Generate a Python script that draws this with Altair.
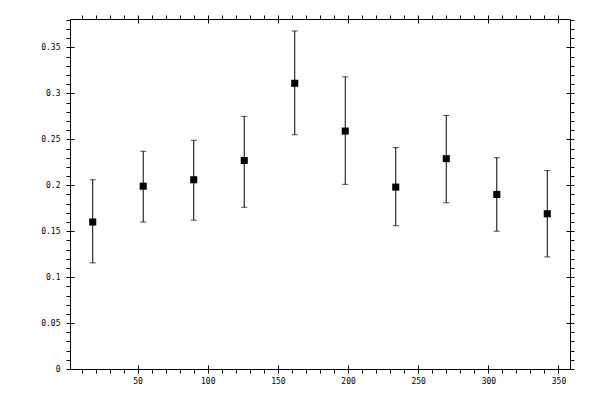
import altair as alt
import pandas as pd

angles = [18, 54, 90, 126, 162, 198, 234, 270, 306, 342]
values = [0.160, 0.199, 0.206, 0.227, 0.311, 0.259, 0.198, 0.229, 0.190, 0.169]
lows = [0.1155, 0.160, 0.162, 0.176, 0.255, 0.201, 0.156, 0.181, 0.150, 0.122]
highs = [0.206, 0.237, 0.249, 0.275, 0.368, 0.318, 0.241, 0.276, 0.230, 0.216]

x_major = [50, 100, 150, 200, 250, 300, 350]
x_minor = [v for v in range(10, 360, 10) if v % 50 != 0]
y_major = [0, 0.05, 0.1, 0.15, 0.2, 0.25, 0.3, 0.35]
y_minor = [round(i * 0.01, 2) for i in range(1, 39) if i % 5 != 0]

df = pd.DataFrame({"x": angles, "y": values, "lo": lows, "hi": highs})

FONT = "DejaVu Sans Mono"
xscale = alt.Scale(domain=[1.8, 358.2], nice=False, zero=False)
yscale = alt.Scale(domain=[0, 0.381], nice=False, zero=False)

common = dict(domain=False, grid=False, title=None, tickColor="black", tickWidth=1,
              labelFont=FONT, labelFontSize=8, labelColor="black", labelOverlap=False)


def major(orient, vals, labels, fmt, pad):
    return alt.Axis(orient=orient, values=vals, offset=-4, tickSize=8, labels=labels,
                    format=fmt, labelPadding=pad, **common)


def minor(orient, vals):
    return alt.Axis(orient=orient, values=vals, offset=0, tickSize=4, labels=False, **common)


base = alt.Chart(df)

bars = base.mark_rule(color="black", strokeWidth=1).encode(
    x=alt.X("x:Q", scale=xscale, axis=major("bottom", x_major, True, "d", 4)),
    y=alt.Y("lo:Q", scale=yscale, axis=major("left", y_major, True, "~g", 6)),
    y2="hi:Q",
)

caps_lo = base.mark_tick(color="black", orient="horizontal", size=6, thickness=1).encode(
    x=alt.X("x:Q", scale=xscale, axis=minor("bottom", x_minor)),
    y=alt.Y("lo:Q", scale=yscale, axis=minor("left", y_minor)),
)

caps_hi = base.mark_tick(color="black", orient="horizontal", size=6, thickness=1).encode(
    x=alt.X("x:Q", scale=xscale, axis=major("top", x_major, False, "d", 4)),
    y=alt.Y("hi:Q", scale=yscale, axis=major("right", y_major, False, "~g", 6)),
)

points = base.mark_square(color="black", size=50, opacity=1).encode(
    x=alt.X("x:Q", scale=xscale, axis=minor("top", x_minor)),
    y=alt.Y("y:Q", scale=yscale, axis=minor("right", y_minor)),
)

chart = alt.layer(bars, caps_lo, caps_hi, points).resolve_axis(
    x="independent", y="independent"
).properties(
    width=500, height=350, autosize="none",
    padding={"left": 62, "top": 11, "right": 20, "bottom": 20},
    background="white",
).configure_view(stroke="black", strokeWidth=1)

chart.save("out.html", embed_options={"renderer": "svg", "actions": False})
